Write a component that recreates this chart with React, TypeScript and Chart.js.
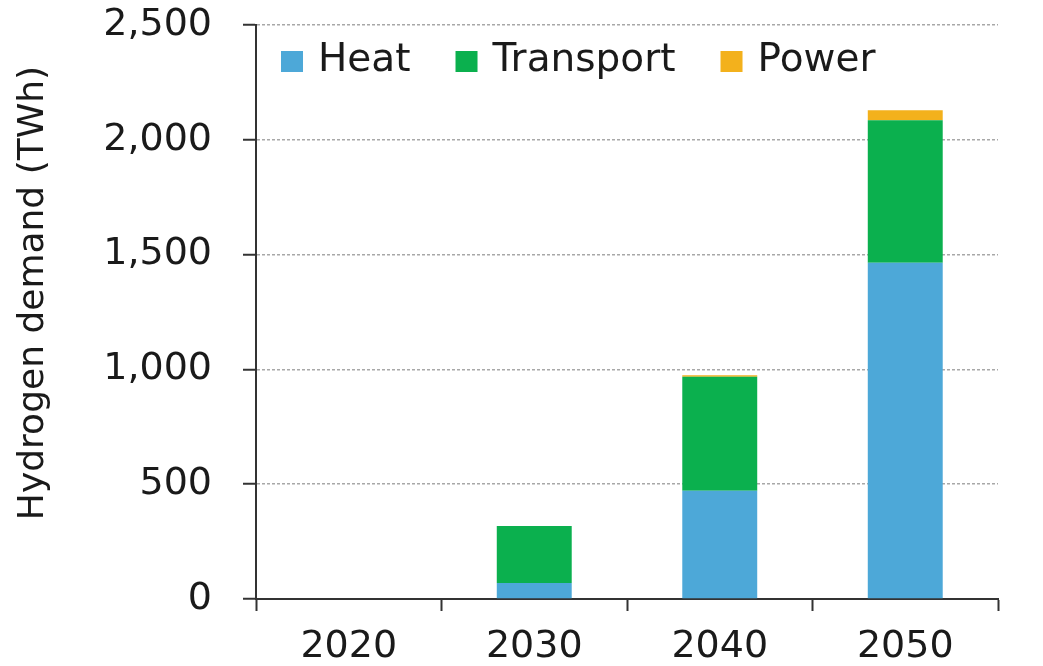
import React, { useEffect, useRef } from "react";
import { Chart, registerables } from "chart.js";

Chart.register(...registerables);

const categories = ["2020", "2030", "2040", "2050"];
const heat = [0, 70, 471, 1465];
const transport = [0, 248, 497, 620];
const power = [0, 0, 7, 44];
const seriesNames = ["Heat", "Transport", "Power"];
const seriesColors = ["#4DA8D8", "#0BB04E", "#F3B11C"];
const yTitle = "Hydrogen demand (TWh)";
const yMin = 0;
const yMax = 2500;
const yStep = 500;

const FONT = "'DejaVu Sans', 'Liberation Sans', Arial, sans-serif";
const TEXT = "#1a1a1a";
const AXIS = "#333333";

const overlayPlugin = {
  id: "overlay",
  afterDraw(chart: any) {
    const ctx = chart.ctx;
    const area = chart.chartArea;
    ctx.save();
    // legend inside plot area
    ctx.font = `39px ${FONT}`;
    ctx.textBaseline = "middle";
    ctx.textAlign = "left";
    let x = area.left + 25;
    const cy = 61;
    chart.data.datasets.forEach((ds: any) => {
      ctx.fillStyle = ds.backgroundColor;
      ctx.fillRect(x, cy - 10, 22, 21);
      ctx.fillStyle = TEXT;
      const tx = x + 22 + 15;
      ctx.fillText(ds.label, tx, cy);
      x = tx + ctx.measureText(ds.label).width + 45;
    });
    // y axis title
    ctx.translate(43, (26 + 560) / 2);
    ctx.rotate(-Math.PI / 2);
    ctx.font = `36px ${FONT}`;
    ctx.textAlign = "center";
    ctx.textBaseline = "alphabetic";
    ctx.fillStyle = TEXT;
    ctx.fillText(yTitle, 0, 0);
    ctx.restore();
  },
};

export default function App() {
  const ref = useRef<HTMLCanvasElement | null>(null);

  useEffect(() => {
    document.body.style.margin = "0";
    const canvas = ref.current;
    if (!canvas) return;
    const seriesValues = [heat, transport, power];
    const chart = new Chart(canvas, {
      type: "bar",
      data: {
        labels: categories,
        datasets: seriesNames.map((name, i) => ({
          label: name,
          data: seriesValues[i],
          backgroundColor: seriesColors[i],
          borderWidth: 0,
          categoryPercentage: 1,
          barPercentage: 0.404,
        })),
      },
      options: {
        responsive: false,
        animation: false,
        devicePixelRatio: 1,
        layout: { padding: { top: 25, right: 45, left: 0, bottom: 0 } },
        plugins: {
          legend: { display: false },
          tooltip: { enabled: false },
          title: { display: false },
        },
        scales: {
          x: {
            stacked: true,
            afterFit(scale: any) {
              scale.height = 67;
              scale.paddingLeft = 0;
              scale.paddingRight = 0;
            },
            grid: {
              display: true,
              drawOnChartArea: false,
              drawTicks: true,
              tickLength: 12,
              tickColor: AXIS,
              tickWidth: 2,
              offset: true,
            },
            border: { display: true, color: AXIS, width: 2 },
            ticks: {
              color: TEXT,
              padding: 13,
              font: { family: FONT, size: 38 },
              maxRotation: 0,
            },
          },
          y: {
            stacked: true,
            min: yMin,
            max: yMax,
            afterFit(scale: any) {
              scale.width = 256;
              scale.paddingTop = 0;
              scale.paddingBottom = 0;
            },
            grid: {
              color: "#a8a8a8",
              lineWidth: 1.5,
              drawTicks: true,
              tickLength: 13,
              tickColor: AXIS,
              tickWidth: 2,
              tickBorderDash: [],
            },
            border: { display: true, color: AXIS, width: 2, dash: [3, 2] },
            ticks: {
              stepSize: yStep,
              color: TEXT,
              padding: 31,
              font: { family: FONT, size: 38 },
              callback: (v: any) => Number(v).toLocaleString("en-US"),
            },
          },
        },
      },
      plugins: [overlayPlugin],
    });
    return () => chart.destroy();
  }, []);

  return (
    <div style={{ width: 1043, height: 666, background: "#fff" }}>
      <canvas ref={ref} width={1043} height={666} style={{ display: "block" }} />
    </div>
  );
}
